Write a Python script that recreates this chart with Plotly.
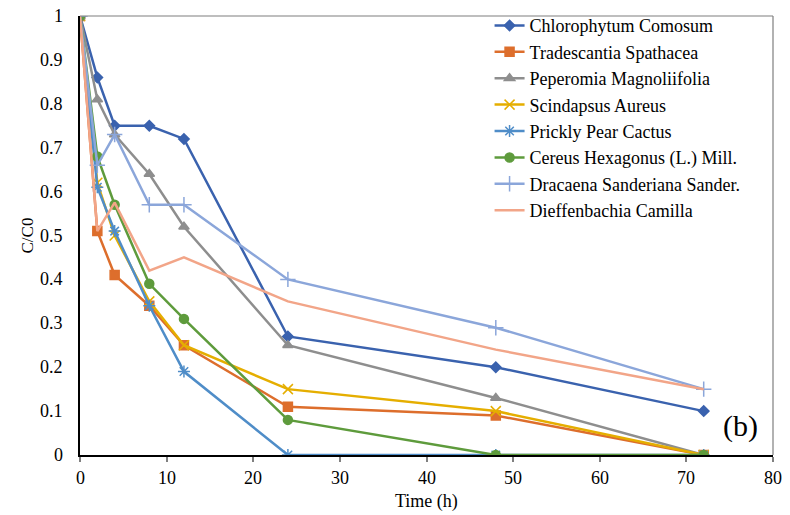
import plotly.graph_objects as go

time_h = [0, 2, 4, 8, 12, 24, 48, 72]

chlorophytum = [1, 0.86, 0.75, 0.75, 0.72, 0.27, 0.20, 0.10]
tradescantia = [1, 0.51, 0.41, 0.34, 0.25, 0.11, 0.09, 0.0]
peperomia = [1, 0.81, 0.73, 0.64, 0.52, 0.25, 0.13, 0.0]
scindapsus = [1, 0.62, 0.50, 0.35, 0.25, 0.15, 0.10, 0.0]
prickly_pear = [1, 0.61, 0.51, 0.34, 0.19, 0.0, 0.0, 0.0]
cereus = [1, 0.68, 0.57, 0.39, 0.31, 0.08, 0.0, 0.0]
dracaena = [1, 0.66, 0.73, 0.57, 0.57, 0.40, 0.29, 0.15]
dieffenbachia = [1, 0.51, 0.575, 0.42, 0.45, 0.35, 0.24, 0.15]

x_ticks = [0, 10, 20, 30, 40, 50, 60, 70, 80]
y_ticks = [0, 0.1, 0.2, 0.3, 0.4, 0.5, 0.6, 0.7, 0.8, 0.9, 1]
x_ticklabels = ["0", "10", "20", "30", "40", "50", "60", "70", "80"]
y_ticklabels = ["0", "0.1", "0.2", "0.3", "0.4", "0.5", "0.6", "0.7", "0.8", "0.9", "1"]

names = ["Chlorophytum Comosum", "Tradescantia Spathacea", "Peperomia Magnoliifolia",
         "Scindapsus Aureus", "Prickly Pear Cactus", "Cereus Hexagonus (L.) Mill.",
         "Dracaena Sanderiana Sander.", "Dieffenbachia Camilla"]
series = [chlorophytum, tradescantia, peperomia, scindapsus, prickly_pear, cereus,
          dracaena, dieffenbachia]
colors = ["#3A62AE", "#DD6E2C", "#8E8E8E", "#E5AE00", "#4F8DC8", "#5E9B3C",
          "#8BA6DA", "#F2A588"]
symbols = ["diamond", "square", "triangle-up", "x-thin-open", "asterisk-open",
           "circle", "cross-thin-open", None]
sizes = [8, 9, 9, 10, 10, 9, 11, 0]

font_family = "Liberation Serif"
tick_font = dict(size=18, family=font_family, color="black")

fig = go.Figure()
for n, s, c, sym, sz in zip(names, series, colors, symbols, sizes):
    if sym is None:
        fig.add_trace(go.Scatter(x=time_h, y=s, name=n, mode="lines",
                                 line=dict(color=c, width=2.5)))
    else:
        fig.add_trace(go.Scatter(x=time_h, y=s, name=n, mode="lines+markers",
                                 line=dict(color=c, width=2.5),
                                 marker=dict(symbol=sym, size=sz, color=c,
                                             line=dict(color=c, width=1.5))))

annotations = []
for v, t in zip(x_ticks, x_ticklabels):
    annotations.append(dict(text=t, x=v, xref="x", y=0, yref="paper",
                            yanchor="middle", xanchor="center", yshift=-23,
                            showarrow=False, font=tick_font))
for v, t in zip(y_ticks, y_ticklabels):
    annotations.append(dict(text=t, x=0, xref="paper", y=v, yref="y",
                            xanchor="right", yanchor="middle", xshift=-15,
                            showarrow=False, font=tick_font))
annotations.append(dict(text="Time (h)", x=0.5, xref="paper", y=0, yref="paper",
                        yanchor="middle", xanchor="center", yshift=-46,
                        showarrow=False, font=dict(size=18, family=font_family)))
annotations.append(dict(text="C/C0", x=0, xref="paper", y=0.5, yref="paper",
                        xanchor="center", yanchor="middle", xshift=-53, textangle=-90,
                        showarrow=False, font=dict(size=17, family=font_family)))
annotations.append(dict(text="(b)", x=76.3, y=0.065, xref="x", yref="y",
                        showarrow=False, font=dict(size=30, family=font_family)))

fig.update_layout(
    width=790, height=515,
    margin=dict(l=80, r=17, t=16, b=60, autoexpand=False),
    paper_bgcolor="white", plot_bgcolor="white",
    font=dict(family=font_family, size=17, color="black"),
    showlegend=True,
    legend=dict(x=0.591, y=1.02, xanchor="left", yanchor="top",
                bgcolor="rgba(0,0,0,0)", font=dict(size=18, family=font_family),
                itemwidth=30, tracegroupgap=0),
    xaxis=dict(range=[0, 80], tickmode="array", tickvals=x_ticks,
               showticklabels=False, showgrid=False, zeroline=False,
               showline=True, linecolor="black", linewidth=1.5,
               ticks="outside", ticklen=5, tickcolor="#808080", tickwidth=1.5,
               automargin=False),
    yaxis=dict(range=[0, 1], tickmode="array", tickvals=y_ticks,
               showticklabels=False, showgrid=False, zeroline=False,
               showline=True, linecolor="black", linewidth=1.5,
               ticks="", automargin=False),
    shapes=[
        dict(type="line", xref="paper", yref="paper", x0=0, x1=1, y0=1, y1=1,
             line=dict(color="#7F7F7F", width=1.2)),
        dict(type="line", xref="paper", yref="paper", x0=1, x1=1, y0=0, y1=1,
             line=dict(color="#7F7F7F", width=1.2)),
    ],
    annotations=annotations,
)

fig.write_html("out.html", post_script="document.body.style.margin='0';",
               config={"displayModeBar": False})
